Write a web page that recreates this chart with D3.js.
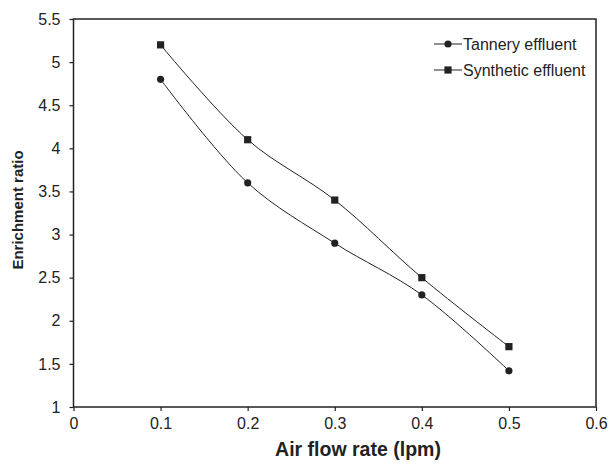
<!DOCTYPE html>
<html>
<head>
<meta charset="utf-8">
<script src="https://cdn.jsdelivr.net/npm/d3@7"></script>
<style>
  body { margin: 0; background: #fff; }
  svg { display: block; font-family: "Liberation Sans", Arial, sans-serif; }
</style>
</head>
<body>
<svg id="chart" width="610" height="464"></svg>
<script>
const airFlow = [0.1, 0.2, 0.3, 0.4, 0.5];
const tannery = [4.8, 3.6, 2.9, 2.3, 1.42];
const synthetic = [5.2, 4.1, 3.4, 2.5, 1.7];
const seriesNames = ["Tannery effluent", "Synthetic effluent"];
const xTicks = [0, 0.1, 0.2, 0.3, 0.4, 0.5, 0.6];
const yTicks = [1, 1.5, 2, 2.5, 3, 3.5, 4, 4.5, 5, 5.5];

const margin = { top: 19, right: 14, bottom: 57, left: 73.5 };
const width = 610 - margin.left - margin.right;
const height = 464 - margin.top - margin.bottom;
const ink = "#222";

const svg = d3.select("#chart");
const g = svg.append("g").attr("transform", `translate(${margin.left},${margin.top})`);

const x = d3.scaleLinear().domain([0, 0.6]).range([0, width]);
const y = d3.scaleLinear().domain([1, 5.5]).range([height, 0]);

// frame
g.append("rect")
  .attr("width", width)
  .attr("height", height)
  .attr("fill", "none")
  .attr("stroke", ink)
  .attr("stroke-width", 1.5);

const xAxis = g.append("g")
  .attr("transform", `translate(0,${height})`)
  .call(d3.axisBottom(x).tickValues(xTicks).tickSize(4).tickPadding(7)
    .tickFormat(d => d === 0 ? "0" : d3.format(".1f")(d)));
const yAxis = g.append("g")
  .call(d3.axisLeft(y).tickValues(yTicks).tickSize(4).tickPadding(9)
    .tickFormat(d => Number.isInteger(d) ? String(d) : d3.format(".1f")(d)));

[xAxis, yAxis].forEach(a => {
  a.select(".domain").remove();
  a.selectAll(".tick line").attr("stroke", ink).attr("stroke-width", 1.2);
  a.selectAll(".tick text")
    .attr("fill", ink)
    .style("font-size", "16px")
    .style("font-family", "'Liberation Sans', Arial, sans-serif");
});

// axis titles
svg.append("text")
  .attr("x", 358)
  .attr("y", 456)
  .attr("text-anchor", "middle")
  .attr("font-weight", "bold")
  .attr("font-size", "19.5px")
  .attr("fill", ink)
  .text("Air flow rate (lpm)");

svg.append("text")
  .attr("transform", `translate(23,${margin.top + height / 2 - 3}) rotate(-90)`)
  .attr("text-anchor", "middle")
  .attr("font-weight", "bold")
  .attr("font-size", "15px")
  .attr("fill", ink)
  .text("Enrichment ratio");

const line = d3.line()
  .x(d => x(d[0]))
  .y(d => y(d[1]))
  .curve(d3.curveCatmullRom.alpha(0.5));

const series = [
  { name: seriesNames[0], values: tannery, shape: "circle" },
  { name: seriesNames[1], values: synthetic, shape: "square" }
];

function drawMarker(sel, shape, cx, cy) {
  if (shape === "circle") {
    sel.append("circle").attr("cx", cx).attr("cy", cy).attr("r", 3.6).attr("fill", ink);
  } else {
    sel.append("rect").attr("x", cx - 3.6).attr("y", cy - 3.6)
      .attr("width", 7.2).attr("height", 7.2).attr("fill", ink);
  }
}

series.forEach(s => {
  const pts = airFlow.map((a, i) => [a, s.values[i]]);
  g.append("path")
    .datum(pts)
    .attr("d", line)
    .attr("fill", "none")
    .attr("stroke", ink)
    .attr("stroke-width", 1);
  pts.forEach(p => drawMarker(g, s.shape, x(p[0]), y(p[1])));
});

// legend
const legend = svg.append("g");
series.forEach((s, i) => {
  const ly = 44 + i * 26;
  legend.append("line")
    .attr("x1", 434).attr("x2", 462)
    .attr("y1", ly).attr("y2", ly)
    .attr("stroke", ink).attr("stroke-width", 1);
  drawMarker(legend, s.shape, 448, ly);
  legend.append("text")
    .attr("x", 463)
    .attr("y", ly)
    .attr("dy", "0.35em")
    .attr("font-size", "16px")
    .attr("fill", ink)
    .text(s.name);
});
</script>
</body>
</html>
